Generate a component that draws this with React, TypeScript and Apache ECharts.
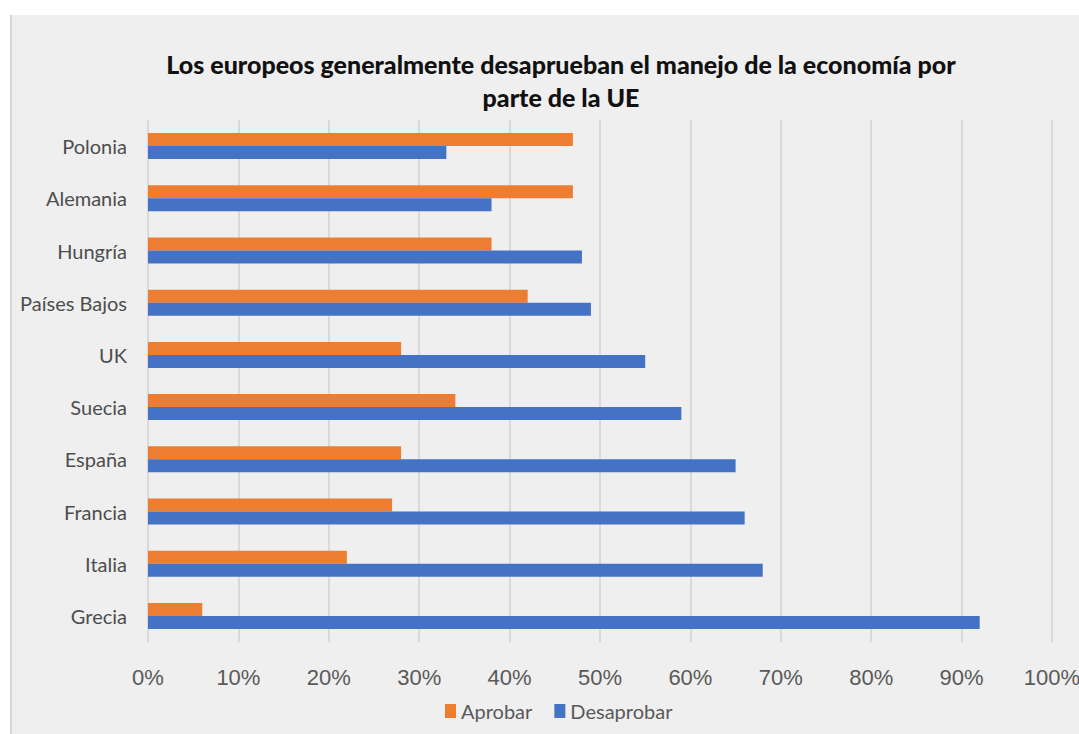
import React, { useEffect, useRef } from "react";
import * as echarts from "echarts";

const categories = ["Polonia", "Alemania", "Hungría", "Países Bajos", "UK", "Suecia", "España", "Francia", "Italia", "Grecia"];
const aprobar = [47, 47, 38, 42, 28, 34, 28, 27, 22, 6];
const desaprobar = [33, 38, 48, 49, 55, 59, 65, 66, 68, 92];
const seriesNames = ["Aprobar", "Desaprobar"];
const titleText = "Los europeos generalmente desaprueban el manejo de la economía por\nparte de la UE";

export default function App() {
  const ref = useRef<HTMLDivElement>(null);
  useEffect(() => {
    const chart = echarts.init(ref.current!, null, { renderer: "svg" });
    chart.setOption({
      animation: false,
      backgroundColor: "#ffffff",
      graphic: [
        { type: "rect", z: -10, shape: { x: 10, y: 15, width: 1069, height: 719 }, style: { fill: "#efefef" } },
        { type: "rect", z: -9, shape: { x: 10, y: 15, width: 2, height: 719 }, style: { fill: "#d6d6d6" } },
      ],
      title: {
        text: titleText,
        left: 556,
        top: 42,
        textAlign: "center",
        textStyle: { fontFamily: "Lato", fontWeight: 900, fontSize: 25, color: "#111111", lineHeight: 33 },
      },
      legend: {
        bottom: 8,
        left: 440,
        itemWidth: 11,
        itemHeight: 14,
        itemGap: 22,
        icon: "rect",
        textStyle: { fontFamily: "Lato", fontSize: 20, color: "#595959" },
        data: seriesNames,
      },
      grid: { left: 148, right: 27, top: 120, bottom: 92, outerBoundsMode: "none" },
      xAxis: {
        type: "value",
        min: 0,
        max: 100,
        interval: 10,
        axisLine: { show: false },
        axisTick: { show: false },
        axisLabel: { formatter: "{value}%", fontFamily: "Liberation Sans", fontSize: 22, color: "#595959", margin: 24 },
        splitLine: { lineStyle: { color: "#d9d9d9", width: 2 } },
      },
      yAxis: {
        type: "category",
        data: categories,
        inverse: true,
        axisLine: { show: false },
        axisTick: { show: false },
        axisLabel: { fontFamily: "Lato", fontSize: 20, color: "#4d4d4d", margin: 21 },
      },
      series: [
        { name: seriesNames[0], type: "bar", data: aprobar, barWidth: 13, barGap: "0%", itemStyle: { color: "#ED7D31" } },
        { name: seriesNames[1], type: "bar", data: desaprobar, barWidth: 13, barGap: "0%", itemStyle: { color: "#4472C4" } },
      ],
    });
    return () => chart.dispose();
  }, []);
  return <div ref={ref} style={{ position: "fixed", left: 0, top: 0, width: 1079, height: 734 }} />;
}
